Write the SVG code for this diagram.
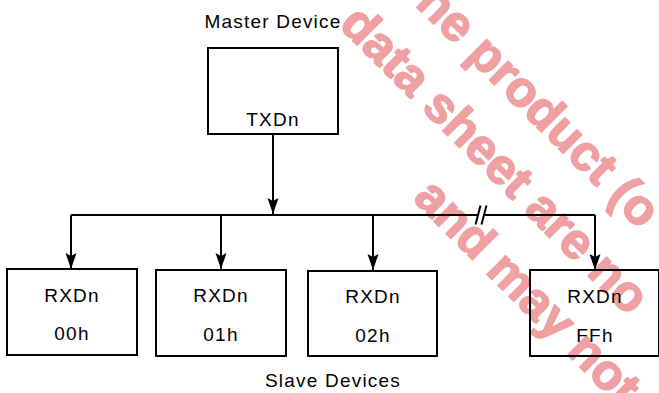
<svg xmlns="http://www.w3.org/2000/svg" width="659" height="393" viewBox="0 0 659 393">
<defs>
<style>
.box{fill:none;stroke:#000;stroke-width:2}
.lbl{font-family:"Liberation Sans",Arial,Helvetica,sans-serif;font-size:19px;letter-spacing:1.2px;fill:#000;text-anchor:middle}
.wire{fill:none;stroke:#000;stroke-width:2}
.wm{font-family:"Liberation Sans",Arial,sans-serif;font-weight:bold;font-size:50px;fill:#EFA0A2;stroke:#EFA0A2;stroke-width:1.6px;stroke-linejoin:round}
</style>
<marker id="arr" markerUnits="userSpaceOnUse" markerWidth="18" markerHeight="14" viewBox="0 0 18 14" refX="17" refY="7" orient="auto">
<path d="M1,1.5 L4,7 L1,12.5 L17,7 Z" fill="#000"/>
</marker>
</defs>
<g id="watermark">
<text class="wm" transform="translate(414.3,4.7) rotate(45)">ne product (o</text>
<text class="wm" transform="translate(338,26) rotate(45)">data sheet are no</text>
<text class="wm" transform="translate(411.9,199.3) rotate(45)">and may not</text>
</g>
<g id="connectors">
<path class="wire" d="M273,134 V214" marker-end="url(#arr)"/>
<path class="wire" d="M71,215 H477.5"/>
<path class="wire" d="M483.5,215 H595"/>
<path class="wire" d="M475.5,224.5 L480.5,205.5 M481.5,224.5 L486.5,205.5"/>
<path class="wire" d="M71,215 V269" marker-end="url(#arr)"/>
<path class="wire" d="M221,215 V269" marker-end="url(#arr)"/>
<path class="wire" d="M373,215 V270" marker-end="url(#arr)"/>
<path class="wire" d="M595,215 V270" marker-end="url(#arr)"/>
</g>
<g id="master">
<text class="lbl" x="273" y="28">Master Device</text>
<rect class="box" x="208" y="48" width="130" height="86"/>
<text class="lbl" x="273" y="126">TXDn</text>
</g>
<g id="slave00">
<rect class="box" x="7" y="269" width="130" height="86"/>
<text class="lbl" x="72" y="302">RXDn</text>
<text class="lbl" x="72" y="340">00h</text>
</g>
<g id="slave01">
<rect class="box" x="156" y="270" width="130" height="86"/>
<text class="lbl" x="221" y="302">RXDn</text>
<text class="lbl" x="221" y="341">01h</text>
</g>
<g id="slave02">
<rect class="box" x="308" y="271" width="129" height="85"/>
<text class="lbl" x="373" y="303">RXDn</text>
<text class="lbl" x="373" y="342">02h</text>
</g>
<g id="slaveFF">
<rect class="box" x="530" y="270" width="129" height="86"/>
<text class="lbl" x="595" y="303">RXDn</text>
<text class="lbl" x="595" y="342">FFh</text>
</g>
<g id="caption">
<text class="lbl" x="333" y="387">Slave Devices</text>
</g>
</svg>
